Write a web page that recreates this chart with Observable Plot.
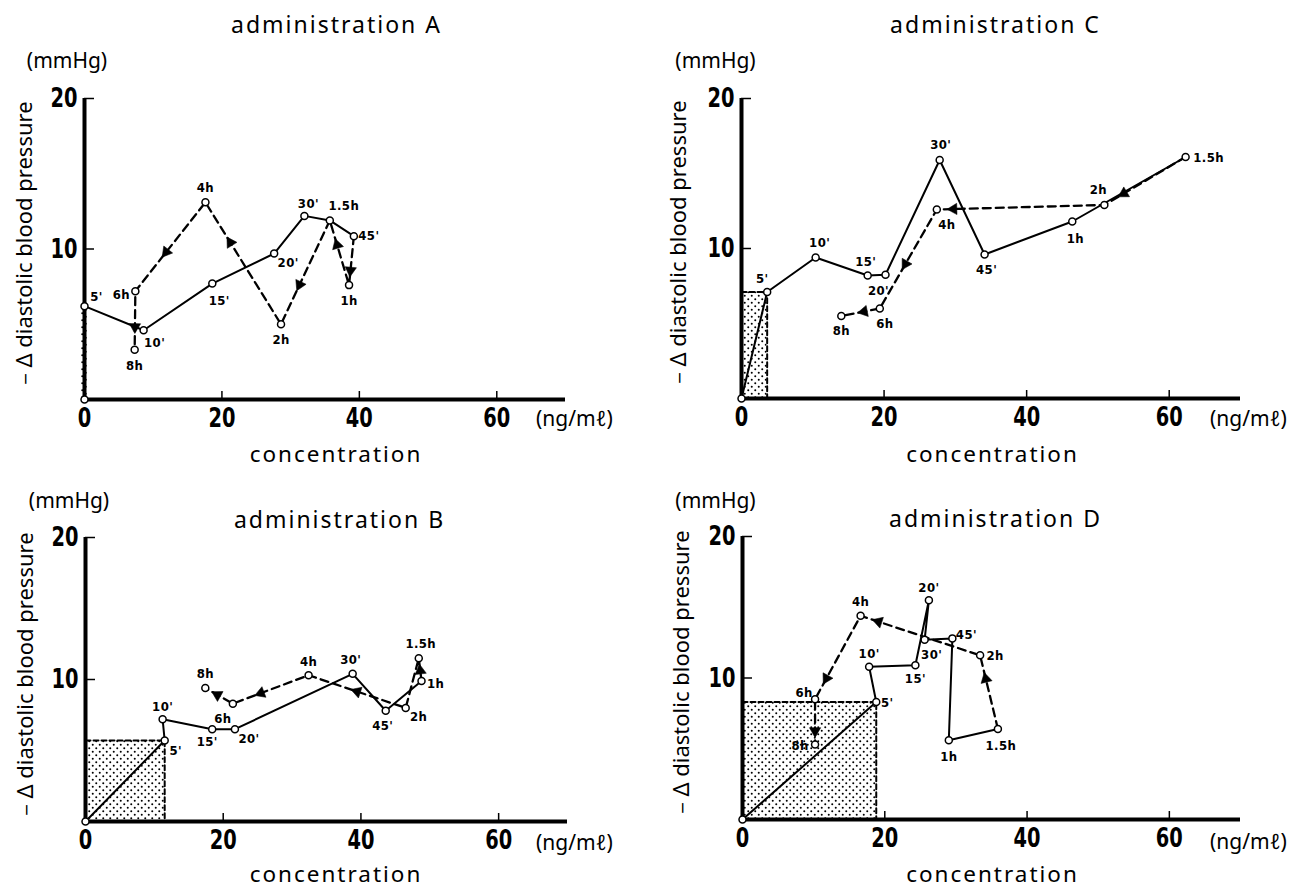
<!DOCTYPE html>
<html><head><meta charset="utf-8">
<script src="https://cdn.jsdelivr.net/npm/d3@7"></script>
<script src="https://cdn.jsdelivr.net/npm/@observablehq/plot@0.6"></script>
<style>
body{margin:0;background:#fff;}
#wrap{position:relative;width:1290px;height:888px;overflow:hidden;background:#fff;}
.panel{position:absolute;}
g[font-size="23"] text, g[font-size="22.5"] text{letter-spacing:2px;}
g[font-size="13"] text{letter-spacing:0.4px;}
</style></head><body><div id="wrap"></div>
<script>
// ---- data ----
const times = ["0", "5'", "10'", "15'", "20'", "30'", "45'", "1h", "1.5h", "2h", "4h", "6h", "8h"];
const concA = [0, 0, 8.6, 18.6, 27.6, 32.0, 39.2, 38.5, 35.7, 28.6, 17.6, 7.4, 7.3];
const bpA   = [0, 6.2, 4.6, 7.7, 9.7, 12.2, 10.85, 7.6, 11.9, 5.0, 13.1, 7.2, 3.3];
const concB = [0, 11.5, 11.2, 18.4, 21.7, 38.8, 43.6, 48.8, 48.4, 46.5, 32.4, 21.4, 17.4];
const bpB   = [0, 5.7, 7.2, 6.5, 6.5, 10.4, 7.8, 9.9, 11.5, 8.0, 10.3, 8.3, 9.4];
const concC = [0, 3.6, 10.4, 17.7, 20.2, 27.8, 34.1, 46.4, 62.3, 50.9, 27.4, 19.4, 14.0];
const bpC   = [0, 7.1, 9.4, 8.2, 8.25, 15.9, 9.6, 11.8, 16.1, 12.9, 12.6, 6.0, 5.5];
const concD = [0, 18.8, 17.8, 24.3, 26.2, 25.6, 29.5, 29.0, 35.9, 33.4, 16.6, 10.2, 10.2];
const bpD   = [0, 8.3, 10.8, 10.9, 15.5, 12.7, 12.8, 5.6, 6.4, 11.6, 14.4, 8.5, 5.3];
const solidA = ["0", "5'", "10'", "15'", "20'", "30'", "1.5h", "45'"];
const dashedA = ["45'", "1h", "1.5h", "2h", "4h", "6h", "8h"];
const solidB = ["0", "5'", "10'", "15'", "20'", "30'", "45'", "1h"];
const dashedB = ["1h", "1.5h", "2h", "4h", "6h", "8h"];
const solidC = ["0", "5'", "10'", "15'", "20'", "30'", "45'", "1h", "1.5h"];
const dashedC = ["1.5h", "2h", "4h", "6h", "8h"];
const solidD = ["0", "5'", "10'", "15'", "20'", "30'", "45'", "1h", "1.5h"];
const dashedD = ["1.5h", "2h", "4h", "6h", "8h"];
const xTicks = [0, 20, 40, 60];
const yTicks = [10, 20];
const titles = ["administration A", "administration B", "administration C", "administration D"];
const yLabel = "－Δ diastolic blood pressure";
const yUnit = "(mmHg)";
const xLabel = "concentration";
const xUnit = "(ng/mℓ)";

// ---- styling / layout (not data) ----
const NARROW = "'Liberation Sans Narrow','DejaVu Sans Condensed','Arial Narrow','Noto Sans',sans-serif";
const SANS = "'Noto Sans','DejaVu Sans',sans-serif";
const arrowAtA = [0.7, 0.62, 0.62, 0.67, 0.56, 0.61];
const arrowAtB = [0.45, null, 0.5, 0.63, 0.56];
const arrowAtC = [0.76, 0.9, 0.55, 0.41];
const arrowAtD = [0.68, 0.85, 0.75, 0.7];
const offA = [null,[12,-9],[11,13],[7,17],[14,9],[4,-12],[15,0],[0,16],[14,-15],[0,16],[0,-15],[-14,4],[0,16]];
const offB = [null,[11,10],[0,-12],[-5,13],[14,10],[-2,-14],[-3,15],[14,3],[2,-14],[13,9],[0,-13],[-10,15],[0,-14]];
const offC = [null,[-5,-13],[4,-15],[-2,-14],[-7,16],[1,-15],[2,15],[3,17],[23,1],[-6,-15],[10,15],[5,15],[0,15]];
const offD = [null,[11,1],[0,-13],[0,14],[0,-12],[7,15],[14,-4],[0,17],[3,17],[15,0],[0,-14],[-11,-6],[-15,1]];

const W = 645;
const panels = [
  {id:"A", title:titles[0], conc:concA, bp:bpA, solid:solidA, dashed:dashedA, arrowAt:arrowAtA, off:offA,
   left:0, top:0, h:470, ml:84, mr:80, mt:98, mb:71, tPos:[336,25.6], uPos:[66.5,61], yPos:[24,245], cPos:[335.5,454], nPos:[574,419], inset:-3},
  {id:"B", title:titles[1], conc:concB, bp:bpB, solid:solidB, dashed:dashedB, arrowAt:arrowAtB, off:offB,
   left:0, top:470, h:418, ml:85, mr:78, mt:67, mb:67, tPos:[339,520.6], uPos:[68.5,501], yPos:[25,676], cPos:[335.5,874], nPos:[574,843], inset:0},
  {id:"C", title:titles[2], conc:concC, bp:bpC, solid:solidC, dashed:dashedC, arrowAt:arrowAtC, off:offC,
   left:645, top:0, h:470, ml:96, mr:50, mt:98, mb:72, tPos:[995,25.6], uPos:[715,61], yPos:[678,244], cPos:[992,454], nPos:[1248,419], inset:0},
  {id:"D", title:titles[3], conc:concD, bp:bpD, solid:solidD, dashed:dashedD, arrowAt:arrowAtD, off:offD,
   left:645, top:470, h:418, ml:97, mr:50, mt:66, mb:69, tPos:[995,519.6], uPos:[715,501], yPos:[681,674], cPos:[992,874], nPos:[1248,842], inset:0}
];

function makePanel(cfg) {
  const H = cfg.h;
  const kx = (W - cfg.ml - cfg.mr) / 70, ky = (H - cfg.mt - cfg.mb) / 20;
  const pts = times.map((t, i) => ({t, x: cfg.conc[i], y: cfg.bp[i], i}));
  const byT = new Map(pts.map(d => [d.t, d]));
  const solid = cfg.solid.map(t => byT.get(t));
  const dashed = cfg.dashed.map(t => byT.get(t));
  const p5 = byT.get("5'");
  const box = [{x: 0, y: p5.y}, {x: p5.x, y: p5.y}, {x: p5.x, y: 0}];
  const heads = [];
  for (let i = 0; i < dashed.length - 1; i++) {
    const f = cfg.arrowAt[i];
    if (f == null) continue;
    const a = dashed[i], b = dashed[i + 1];
    const sx = (b.x - a.x) * kx, sy = -(b.y - a.y) * ky;
    heads.push({x: a.x + (b.x - a.x) * f, y: a.y + (b.y - a.y) * f, rot: Math.atan2(sx, -sy) * 180 / Math.PI});
  }
  const fx = px => px - cfg.left - cfg.ml;
  const fy = py => py - cfg.top - cfg.mt;
  const txt = (s, pos, o = {}) => Plot.text([s], {text: d => d, frameAnchor: "top-left", textAnchor: "middle", lineAnchor: "middle", dx: fx(pos[0]), dy: fy(pos[1]), ...o});
  const labels = pts.filter(d => cfg.off[d.i]).map(d => {
    const o = cfg.off[d.i];
    return Plot.text([d], {x: "x", y: "y", text: "t", dx: o[0], dy: o[1], fontSize: 13, fontWeight: "bold", fontFamily: NARROW});
  });
  const svg = Plot.plot({
    width: W, height: H,
    marginLeft: cfg.ml, marginRight: cfg.mr, marginTop: cfg.mt, marginBottom: cfg.mb,
    x: {domain: [0, 70]}, y: {domain: [0, 20]},
    style: {background: "transparent", overflow: "visible", color: "black"},
    marks: [
      Plot.rect([p5], {x1: 0, x2: "x", y1: 0, y2: "y", fill: `url(#stip${cfg.id})`, insetLeft: cfg.inset, insetRight: cfg.inset}),
      Plot.line(box, {x: "x", y: "y", strokeDasharray: "5,3", strokeWidth: 2}),
      Plot.ruleY([0], {x1: 0, x2: 70, strokeWidth: 4}),
      Plot.ruleX([0], {y1: 0, y2: 20, strokeWidth: 4}),
      Plot.ruleX(xTicks.slice(1), {x: d => d, y1: 0, y2: 8 / ky, strokeWidth: 1.5}),
      Plot.ruleY(yTicks, {y: d => d, x1: 0, x2: 10 / kx, strokeWidth: 1.5}),
      Plot.axisX(xTicks, {tickSize: 0, tickPadding: 8, fontSize: 27, fontWeight: 600, fontFamily: NARROW, label: null, tickFormat: d => String(d)}),
      Plot.axisY(yTicks, {tickSize: 0, tickPadding: 7, fontSize: 27, fontWeight: 600, fontFamily: NARROW, label: null, tickFormat: d => String(d)}),
      Plot.line(dashed, {x: "x", y: "y", strokeDasharray: "8,5", strokeWidth: 2.3}),
      Plot.dot(heads, {x: "x", y: "y", rotate: "rot", symbol: "triangle", r: 4.2, fill: "black", stroke: "black", strokeWidth: 0.5}),
      Plot.line(solid, {x: "x", y: "y", strokeWidth: 2}),
      Plot.dot(pts, {x: "x", y: "y", r: 3.5, fill: "white", stroke: "black", strokeWidth: 1.5}),
      ...labels,
      txt(cfg.title, cfg.tPos, {fontSize: 23, fontFamily: SANS}),
      txt(xLabel, cfg.cPos, {fontSize: 22.5, fontFamily: SANS}),
      txt(yUnit, cfg.uPos, {fontSize: 21, fontFamily: SANS}),
      txt(xUnit, cfg.nPos, {fontSize: 21, fontFamily: SANS}),
      txt(yLabel, cfg.yPos, {fontSize: 22, fontFamily: SANS, rotate: -90})
    ]
  });
  const defs = d3.select(svg).insert("defs", ":first-child");
  const pat = defs.append("pattern").attr("id", `stip${cfg.id}`).attr("width", 7).attr("height", 7).attr("patternUnits", "userSpaceOnUse");
  pat.append("circle").attr("cx", 1.75).attr("cy", 1.75).attr("r", 1).attr("fill", "black");
  pat.append("circle").attr("cx", 5.25).attr("cy", 5.25).attr("r", 1).attr("fill", "black");
  // condense the big tick numerals like the reference's narrow face
  d3.select(svg).selectAll('g[aria-label="x-axis tick label"] text, g[aria-label="y-axis tick label"] text')
    .each(function() {
      const n = this.textContent.length;
      this.setAttribute("textLength", 13.5 * n);
      this.setAttribute("lengthAdjust", "spacingAndGlyphs");
    });
  const div = document.createElement("div");
  div.className = "panel";
  div.style.left = cfg.left + "px";
  div.style.top = cfg.top + "px";
  div.appendChild(svg);
  document.getElementById("wrap").appendChild(div);
}
panels.forEach(makePanel);
</script>
</body></html>
